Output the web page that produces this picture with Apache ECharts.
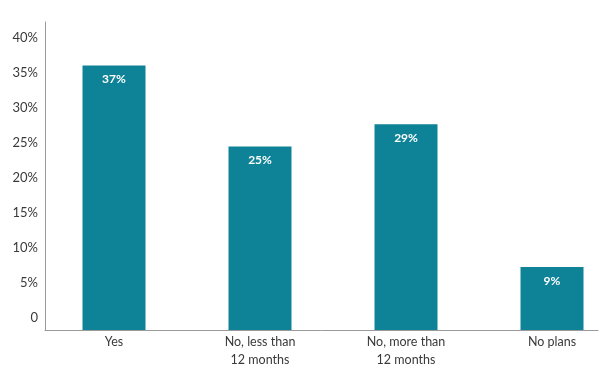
<!DOCTYPE html>
<html>
<head>
<meta charset="utf-8">
<script src="https://cdn.jsdelivr.net/npm/echarts@6/dist/echarts.min.js"></script>
<style>
html,body{margin:0;padding:0;background:#fff;}
#chart{width:614px;height:382px;}
</style>
</head>
<body>
<div id="chart"></div>
<script>
var categories = ['Yes', 'No, less than\n12 months', 'No, more than\n12 months', 'No plans'];
var barValues = [37.8, 26.2, 29.4, 9.0];
var valueLabels = ['37%', '25%', '29%', '9%'];
var yTicks = [0, 5, 10, 15, 20, 25, 30, 35, 40];

var FONT = 'Lato, "Noto Sans", sans-serif';
var chart = echarts.init(document.getElementById('chart'), null, {renderer: 'canvas'});

var data = barValues.map(function (v, i) { return [i, v]; });

chart.setOption({
  backgroundColor: '#ffffff',
  animation: false,
  grid: {left: 45, right: 16, top: 22, bottom: 52, containLabel: false},
  xAxis: {
    type: 'value',
    min: -0.4726,
    max: 3.315,
    splitLine: {show: false},
    axisTick: {show: false},
    axisLine: {show: true, onZero: false, lineStyle: {color: '#9a9a9a', width: 1}},
    axisLabel: {
      customValues: [0, 1, 2, 3],
      formatter: function (v) { return categories[Math.round(v)] || ''; },
      color: '#3a3a3a',
      fontFamily: FONT,
      fontSize: 12.5,
      lineHeight: 18,
      margin: 3,
      align: 'center'
    }
  },
  yAxis: {
    type: 'value',
    min: 0,
    max: 44,
    splitLine: {show: false},
    axisTick: {show: false},
    axisLine: {show: true, onZero: false, lineStyle: {color: '#9a9a9a', width: 1}},
    axisLabel: {
      customValues: yTicks,
      formatter: function (v) { return v === 0 ? '0' : v + '%'; },
      color: '#3a3a3a',
      fontFamily: FONT,
      fontSize: 13,
      margin: 7,
      verticalAlign: 'bottom',
      lineHeight: 24
    }
  },
  series: [{
    type: 'bar',
    data: data,
    barWidth: 63,
    clip: false,
    itemStyle: {color: '#0e8296'},
    label: {
      show: true,
      position: 'insideTop',
      distance: 8,
      color: '#ffffff',
      fontFamily: FONT,
      fontWeight: 'bold',
      fontSize: 12,
      formatter: function (p) { return valueLabels[p.dataIndex]; }
    }
  }]
});
</script>
</body>
</html>
